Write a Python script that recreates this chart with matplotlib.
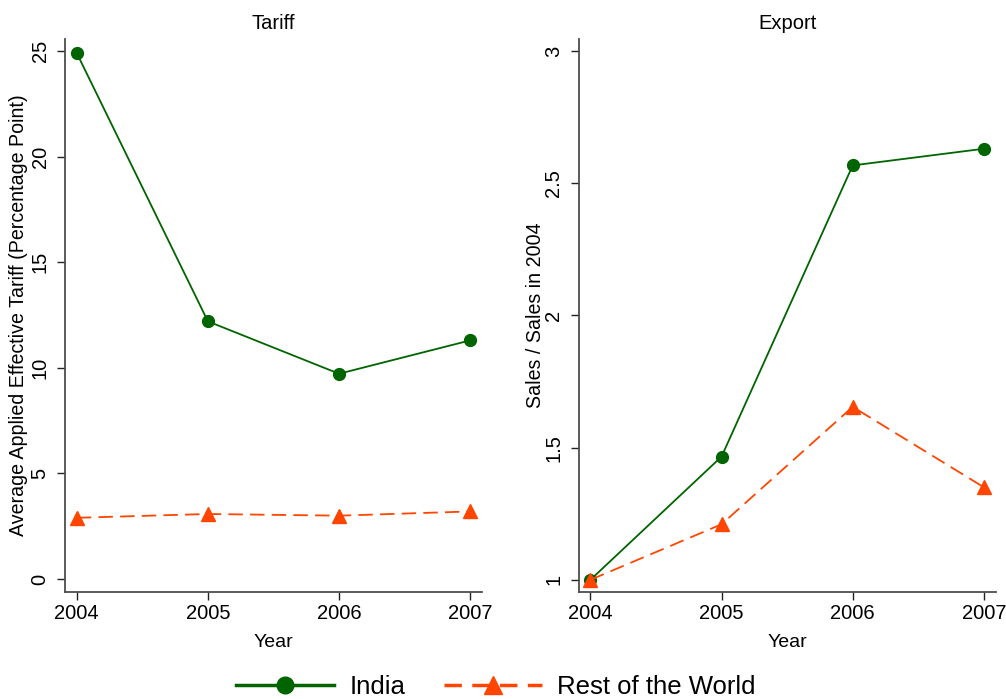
import numpy as np
import matplotlib
matplotlib.use("Agg")
import matplotlib.pyplot as plt
from matplotlib.lines import Line2D

plt.rcParams['font.family'] = ['Liberation Sans', 'DejaVu Sans']

years = [2004, 2005, 2006, 2007]
tariff_india = [24.9, 12.2, 9.72, 11.3]
tariff_row = [2.9, 3.08, 3.0, 3.2]
export_india = [1.0, 1.466, 2.567, 2.63]
export_row = [1.0, 1.21, 1.654, 1.35]

green = '#006400'
orange = '#FF4500'
axcol = '#4d4d4d'

fig = plt.figure(figsize=(10.06, 6.99), dpi=100)
ax1 = fig.add_axes([0.0646, 0.1535, 0.4145, 0.7907])
ax2 = fig.add_axes([0.5752, 0.1535, 0.4145, 0.7907])

def style(ax, title, ylabel, yticks, ylim, lx):
    ax.set_xlim(2003.91, 2007.09)
    ax.set_ylim(*ylim)
    ax.set_xticks(years)
    ax.set_yticks(yticks)
    ax.set_yticklabels([('%g' % t) for t in yticks], rotation=90, va='center')
    for s in ['top', 'right']:
        ax.spines[s].set_visible(False)
    for s in ['left', 'bottom']:
        ax.spines[s].set_color(axcol)
        ax.spines[s].set_linewidth(1.3)
    ax.tick_params(direction='out', length=6, width=1, color='#222222',
                   labelsize=14.5)
    ax.tick_params(axis='y', pad=5)
    ax.tick_params(axis='x', pad=3)
    ax.set_title(title, fontsize=14.5, pad=7)
    ax.set_xlabel('Year', fontsize=14)
    ax.xaxis.set_label_coords(0.5, -0.077)
    ax.set_ylabel(ylabel, fontsize=14.1)
    ax.yaxis.set_label_coords(lx, 0.5)

ax1.plot(years, tariff_india, color=green, lw=1.3, marker='o', ms=8.5)
ax1.plot(years, tariff_row, color=orange, lw=1.3, ls=(0, (8, 4)), marker='^', ms=10)
style(ax1, 'Tariff', 'Average Applied Effective Tariff (Percentage Point)',
      [0, 5, 10, 15, 20, 25], (-0.6, 25.57), -0.089)

ax2.plot(years, export_india, color=green, lw=1.3, marker='o', ms=8.5)
ax2.plot(years, export_row, color=orange, lw=1.3, ls=(0, (8, 4)), marker='^', ms=10)
style(ax2, 'Export', 'Sales / Sales in 2004',
      [1, 1.5, 2, 2.5, 3], (0.955, 3.045), -0.081)

handles = [Line2D([], [], color=green, lw=2.5, marker='o', ms=12),
           Line2D([], [], color=orange, lw=2.5, ls=(0, (5, 3)), marker='^', ms=13)]
fig.legend(handles, ['India', 'Rest of the World'], loc='center',
           bbox_to_anchor=(0.493, 0.017), ncol=2, frameon=False, fontsize=18.5,
           handlelength=3.8, handletextpad=0.6, columnspacing=1.5)

fig.savefig('out.png', dpi=100)
